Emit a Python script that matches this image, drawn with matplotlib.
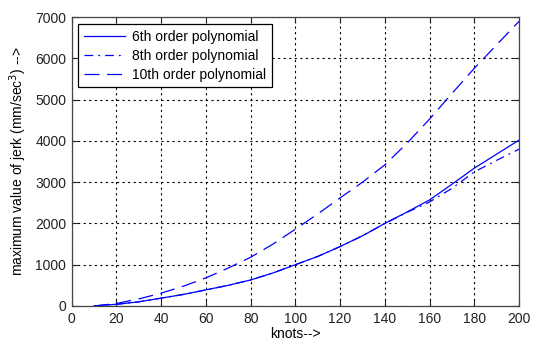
import matplotlib
matplotlib.use("Agg")
import matplotlib.pyplot as plt

# max jerk vs speed for three trajectory polynomial orders
knots = [10, 20, 30, 40, 50, 60, 70, 80, 90, 100,
         110, 120, 130, 140, 150, 160, 170, 180, 190, 200]
jerk_6th = [0, 40, 100, 190, 280, 390, 500, 630, 800, 1000,
            1200, 1440, 1700, 2000, 2280, 2570, 2950, 3340, 3680, 4020]
jerk_8th = [0, 40, 100, 190, 280, 390, 500, 630, 800, 1000,
            1200, 1440, 1700, 2000, 2270, 2520, 2850, 3250, 3530, 3800]
jerk_10th = [0, 60, 170, 310, 480, 680, 920, 1180, 1500, 1860,
             2230, 2620, 3000, 3420, 3950, 4530, 5150, 5760, 6330, 6900]

xticks = list(range(0, 201, 20))
yticks = list(range(0, 7001, 1000))

plt.rcParams["font.family"] = ["Liberation Sans", "DejaVu Sans"]
plt.rcParams["font.size"] = 10

fig = plt.figure(figsize=(5.39, 3.43), dpi=100)
ax = fig.add_axes([0.133, 0.108, 0.830, 0.842])

blue = "#0000ff"
ax.plot(knots, jerk_6th, color=blue, lw=0.9, ls="-", label="6th order polynomial")
ax.plot(knots, jerk_8th, color=blue, lw=0.9, ls=(0, (7, 4, 1.5, 4)), label="8th order polynomial")
ax.plot(knots, jerk_10th, color=blue, lw=0.9, ls=(0, (12, 6)), label="10th order polynomial")

ax.set_xlim(0, 200)
ax.set_ylim(0, 7000)
ax.set_xticks(xticks)
ax.set_yticks(yticks)
ax.grid(True, color="black", ls=(0, (2, 3)), lw=0.8)
ax.tick_params(direction="in", top=True, right=True, length=4, pad=4, colors="#222222")
for s in ax.spines.values():
    s.set_color("#444444")
    s.set_linewidth(0.9)

ax.set_xlabel("knots-->", labelpad=1)
ax.set_ylabel("maximum value of jerk (mm/sec$^3$) -->", labelpad=4)

leg = ax.legend(loc="upper left", bbox_to_anchor=(0.014, 0.975), handlelength=3.0,
                fancybox=False, framealpha=1, edgecolor="black", borderpad=0.4,
                labelspacing=0.35, handletextpad=0.5, borderaxespad=0)
leg.get_frame().set_linewidth(0.9)

fig.savefig("out.png", dpi=100)
